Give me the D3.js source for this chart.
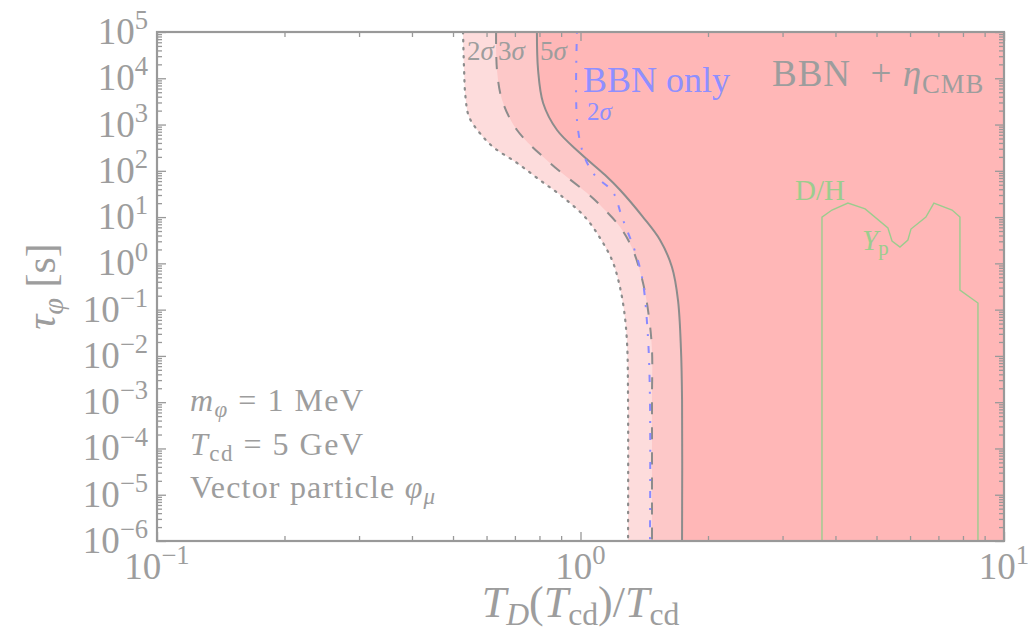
<!DOCTYPE html>
<html>
<head>
<meta charset="utf-8">
<script src="https://cdn.jsdelivr.net/npm/d3@7"></script>
<style>
body{margin:0;background:#fff;}
text{font-family:"Liberation Serif","Times New Roman",serif;fill:#9d9d9d;}
</style>
</head>
<body>
<script>
//wrap everything in a self-executing function
(function(){

//tick values
var xMajor = [0.1, 1, 10];
var xExp = ["−1", "0", "1"];
var yMajor = [1e-6, 1e-5, 1e-4, 1e-3, 1e-2, 1e-1, 1e0, 1e1, 1e2, 1e3, 1e4, 1e5];
var yExp = ["−6", "−5", "−4", "−3", "−2", "−1", "0", "1", "2", "3", "4", "5"];

//curves: [T_D/T_cd, tau_phi (s)]
var sig2 = [[0.528,1e5],[0.531,1.51e4],[0.535,4e3],[0.545,1.5e3],[0.575,700],[0.622,327],
    [0.708,148],[0.802,63],[0.909,27],[1.025,10],[1.112,3.53],[1.187,1.18],[1.233,0.376],
    [1.267,0.098],[1.288,0.019],[1.295,1.1e-3],[1.295,1e-6]];
var sig3 = [[0.632,1e5],[0.635,1.51e4],[0.653,3.39e3],[0.708,762],[0.847,148],[1.036,33],
    [1.112,18.2],[1.240,6.1],[1.33,1.94],[1.405,0.376],[1.451,0.069],[1.475,0.0134],
    [1.475,1.1e-3],[1.475,1e-6]];
var sig5 = [[0.789,1e5],[0.794,1.51e4],[0.816,2.92e3],[0.880,762],[0.997,243],[1.143,81],
    [1.240,38.5],[1.405,10],[1.541,3.2],[1.644,0.834],[1.699,0.161],[1.727,0.0134],
    [1.737,1.1e-3],[1.737,1e-6]];
var bbnOnly = [[0.981,1e5],[0.981,1250],[1.014,243],[1.070,90],[1.112,63],[1.193,34.8],
    [1.253,10],[1.359,1.37],[1.405,0.376],[1.443,0.0256],[1.459,1.1e-3],[1.459,1e-6]];
var dhYp = [[3.717,1e-6],[3.717,10],[3.925,14.2],[4.28,20.1],[4.70,15.0],[5.32,5.81],
    [5.44,3.04],[5.68,2.26],[5.93,3.2],[6.03,5.52],[6.54,10],[6.83,20.1],[7.54,14.2],
    [7.87,10],[7.87,0.265],[8.68,0.139],[8.68,1e-6]];

//frame
var width = 1028, height = 636;
var margin = {left:157, right:24, top:32, bottom:95};
var x0 = margin.left, x1 = width - margin.right,
    y0 = margin.top, y1 = height - margin.bottom;

var svg = d3.select("body").append("svg")
    .attr("width", width)
    .attr("height", height);

var x = d3.scaleLog().domain([0.1, 10]).range([x0, x1]);
var y = d3.scaleLog().domain([1e-6, 1e5]).range([y1, y0]);

svg.append("clipPath").attr("id", "clip")
    .append("rect").attr("x", x0).attr("y", y0)
    .attr("width", x1 - x0).attr("height", y1 - y0);

var plot = svg.append("g").attr("clip-path", "url(#clip)");

//excluded regions, right of each curve
var area = d3.area()
    .curve(d3.curveCatmullRom)
    .y(function(d){ return y(d[1]); })
    .x0(function(d){ return x(d[0]); })
    .x1(function(){ return x(10) + 5; });

var line = d3.line()
    .curve(d3.curveCatmullRom)
    .x(function(d){ return x(d[0]); })
    .y(function(d){ return y(d[1]); });

plot.append("path").datum(sig2).attr("d", area).style("fill", "#fddcdc");
plot.append("path").datum(sig3).attr("d", area).style("fill", "#fdc8c8");
plot.append("path").datum(sig5).attr("d", area).style("fill", "#ffb7b7");

//D/H and Yp contour
plot.append("path").datum(dhYp)
    .attr("d", d3.line().x(function(d){ return x(d[0]); }).y(function(d){ return y(d[1]); }))
    .style("fill", "none").style("stroke", "#9ccc8e").style("stroke-width", 1.4);

plot.append("path").datum(sig2).attr("d", line)
    .style("fill", "none").style("stroke", "#8c8c8c").style("stroke-width", 2.2)
    .style("stroke-dasharray", "1.5,6.5").style("stroke-linecap", "round");
plot.append("path").datum(sig3).attr("d", line)
    .style("fill", "none").style("stroke", "#8c8c8c").style("stroke-width", 2)
    .style("stroke-dasharray", "12,13");
plot.append("path").datum(sig5).attr("d", line)
    .style("fill", "none").style("stroke", "#8c8c8c").style("stroke-width", 2);
plot.append("path").datum(bbnOnly).attr("d", line)
    .style("fill", "none").style("stroke", "#8a8aff").style("stroke-width", 2)
    .style("stroke-dasharray", "2,10,7,10");

//minor tick values
var xMinor = [], yMinor = [];
[0.1, 1].forEach(function(d){ for (var k=2; k<10; k++) xMinor.push(d*k); });
yMajor.slice(0, -1).forEach(function(d){ for (var k=2; k<10; k++) yMinor.push(d*k); });

//axes with ticks pointing inward on all four sides
function ticks(axis, pos, vals, len){
    var g = svg.append("g")
        .attr("transform", pos)
        .call(axis.tickValues(vals).tickSizeInner(-len).tickSizeOuter(0).tickFormat(""));
    g.select(".domain").remove();
    g.selectAll("line").style("stroke", "#999").style("stroke-width", 1.3);
}
ticks(d3.axisBottom(x), "translate(0," + y1 + ")", xMajor, 9);
ticks(d3.axisBottom(x), "translate(0," + y1 + ")", xMinor, 5);
ticks(d3.axisTop(x), "translate(0," + y0 + ")", xMajor, 9);
ticks(d3.axisTop(x), "translate(0," + y0 + ")", xMinor, 5);
ticks(d3.axisLeft(y), "translate(" + x0 + ",0)", yMajor, 9);
ticks(d3.axisLeft(y), "translate(" + x0 + ",0)", yMinor, 5);
ticks(d3.axisRight(y), "translate(" + x1 + ",0)", yMajor, 9);
ticks(d3.axisRight(y), "translate(" + x1 + ",0)", yMinor, 5);

svg.append("rect")
    .attr("x", x0).attr("y", y0)
    .attr("width", x1 - x0).attr("height", y1 - y0)
    .style("fill", "none").style("stroke", "#999").style("stroke-width", 2.2);

//text with sub/superscripts: parts = [text, flags]
function rich(t, parts, size){
    var shift = 0;
    parts.forEach(function(p){
        var o = p[1] || {};
        var s = 0, fs = size;
        if (o.sup){ s = -0.40*size; fs = 0.72*size; }
        if (o.sub){ s = 0.18*size; fs = 0.72*size; }
        t.append("tspan")
            .attr("dy", s - shift)
            .style("font-size", fs + "px")
            .style("font-style", o.it ? "italic" : "normal")
            .text(p[0]);
        shift = s;
    });
}
function label(px, py, anchor, size, parts, color, spacing){
    var t = svg.append("text")
        .attr("x", px).attr("y", py)
        .attr("text-anchor", anchor)
        .style("font-size", size + "px")
        .style("letter-spacing", (spacing || 0) + "px");
    if (color) t.style("fill", color);
    rich(t, parts, size);
    return t;
}

//tick labels
xMajor.forEach(function(d, i){
    label(x(d), y1 + 38, "middle", 37, [["10"], [xExp[i], {sup:1}]]);
});
yMajor.forEach(function(d, i){
    label(x0 - 9, y(d) + 12, "end", 37, [["10"], [yExp[i], {sup:1}]]);
});

//axis titles
label((x0 + x1)/2, 617, "middle", 44,
    [["T", {it:1}], ["D", {sub:1, it:1}], ["("], ["T", {it:1}], ["cd", {sub:1}], [")/"],
     ["T", {it:1}], ["cd", {sub:1}]]);
label(0, 0, "middle", 42, [["τ", {it:1}], ["φ", {sub:1, it:1}], [" [s]"]])
    .attr("x", null).attr("y", null)
    .attr("transform", "translate(55," + (y0 + y1)/2 + ") rotate(-90)");

//annotations
label(467, 60, "start", 27, [["2"], ["σ", {it:1}]]);
label(498, 60, "start", 27, [["3"], ["σ", {it:1}]]);
label(540, 60, "start", 27, [["5"], ["σ", {it:1}]]);
label(583, 92, "start", 36, [["BBN only"]], "#8f8fff");
label(587, 120, "start", 25, [["2"], ["σ", {it:1}]], "#8f8fff");
label(772, 86, "start", 37, [["BBN\u2002+ "], ["η", {it:1}], ["CMB", {sub:1}]], null, 1);
label(795, 200, "start", 29, [["D/H"]], "#9ccc8e");
label(862, 250, "start", 29, [["Y", {it:1}], ["p", {sub:1}]], "#9ccc8e");

label(190, 411, "start", 32, [["m", {it:1}], ["φ", {sub:1, it:1}], [" = 1 MeV"]], null, 1.5);
label(190, 455, "start", 32, [["T", {it:1}], ["cd", {sub:1}], [" = 5 GeV"]], null, 1.5);
label(190, 498, "start", 32, [["Vector particle "], ["φ", {it:1}], ["μ", {sub:1, it:1}]], null, 1.2);

})();
</script>
</body>
</html>
